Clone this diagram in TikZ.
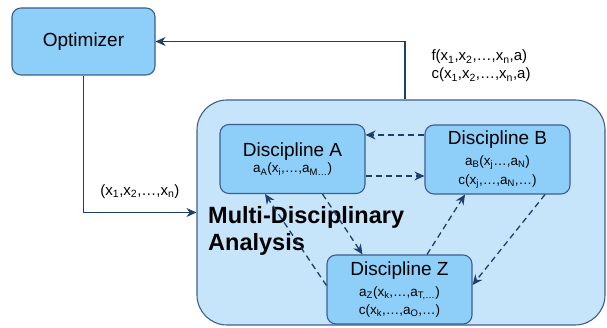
\documentclass[tikz,border=0pt]{standalone}
\usepackage{fontspec}
\setmainfont{Liberation Sans}
\usetikzlibrary{arrows.meta, positioning, calc}
\definecolor{boxblue}{HTML}{8DCFF8}
\definecolor{envblue}{HTML}{C6E5FA}
\definecolor{edgeblue}{HTML}{3D5F8E}
\definecolor{linkblue}{HTML}{1F3F6B}
\newcommand{\sub}[1]{\textsubscript{#1}}
\tikzset{%
	block/.style={draw=edgeblue, line width=1.1pt, fill=boxblue, rectangle, rounded corners=9pt,%
		minimum width=143pt, minimum height=67pt, font=\fontsize{19}{22}\selectfont},
	disc/.style={draw=edgeblue, line width=1.1pt, fill=boxblue, rectangle, rounded corners=9pt,%
		minimum width=145pt, minimum height=69pt, align=center, inner sep=2pt},
	env/.style={draw=edgeblue, line width=1.1pt, fill=envblue, rectangle, rounded corners=30pt,%
		minimum width=408pt, minimum height=225pt},
	flow/.style={-{Stealth[length=10pt,width=9pt]}, draw=linkblue, line width=1.3pt},
	dep/.style={-{Stealth[length=10pt,width=9pt]}, draw=linkblue, line width=1.3pt, dash pattern=on 6pt off 4pt},
	title/.style={font=\fontsize{19}{22}\selectfont},
	small/.style={font=\fontsize{15}{18}\selectfont}
}

\begin{document}
\begin{tikzpicture}[x=1pt, y=1pt]
	\useasboundingbox (0,0) rectangle (607,328);
	\node[block] (opt) at (83.5,286.5) {Optimizer};
	\node[env] (mda) at (401,115.5) {};
	\node[disc] (A) at (292.5,169) {{\fontsize{19}{24}\selectfont Discipline A}\\[2pt]%
		{\fontsize{13.5}{17}\selectfont a\sub{A}(x\sub{i},…,a\sub{M…})}};
	\node[disc] (B) at (497.5,168.5) {{\fontsize{19}{22}\selectfont Discipline B}\\[6pt]%
		{\fontsize{13.5}{17}\selectfont a\sub{B}(x\sub{j}…,a\sub{N})}\\[4pt]%
		{\fontsize{13.5}{17}\selectfont c(x\sub{j},…,a\sub{N},…)}};
	\node[disc] (Z) at (399.5,38.5) {{\fontsize{19}{22}\selectfont Discipline Z}\\[6pt]%
		{\fontsize{13.5}{17}\selectfont a\sub{Z}(x\sub{k},…,a\sub{T,…})}\\[4pt]%
		{\fontsize{13.5}{17}\selectfont c(x\sub{k},…,a\sub{O},…)}};
	\node[anchor=north west, inner sep=0pt, align=left, font=\fontsize{23.5}{27}\selectfont\bfseries]%
		(label) at (208,122) {Multi-Disciplinary\\Analysis};

	\draw[flow] (opt.south) |- node[pos=0.75, above=10pt, small] {(x\sub{1},x\sub{2},…,x\sub{n})} (mda.west);
	\draw[flow] ([xshift=4pt]mda.north) |- (opt.east);
	\node[anchor=west, align=left, small] (obj) at (428,262) {f(x\sub{1},x\sub{2},…,x\sub{n},a)\\c(x\sub{1},x\sub{2},…,x\sub{n},a)};

	\draw[dep] ([yshift=24.5pt]B.west) -- ([yshift=24pt]A.east);
	\draw[dep] ([yshift=-17pt]A.east) -- ([yshift=-16.5pt]B.west);
	\draw[dep] ([xshift=30pt]A.south) -- ([xshift=-37pt]Z.north);
	\draw[dep] ([yshift=4pt]Z.west) -- ([xshift=-27.5pt]A.south);
	\draw[dep] ([xshift=27.5pt]Z.north) -- ([xshift=-32.5pt]B.south);
	\draw[dep] ([xshift=47.5pt]B.south) -- ([yshift=4.5pt]Z.east);
\end{tikzpicture}
\end{document}
